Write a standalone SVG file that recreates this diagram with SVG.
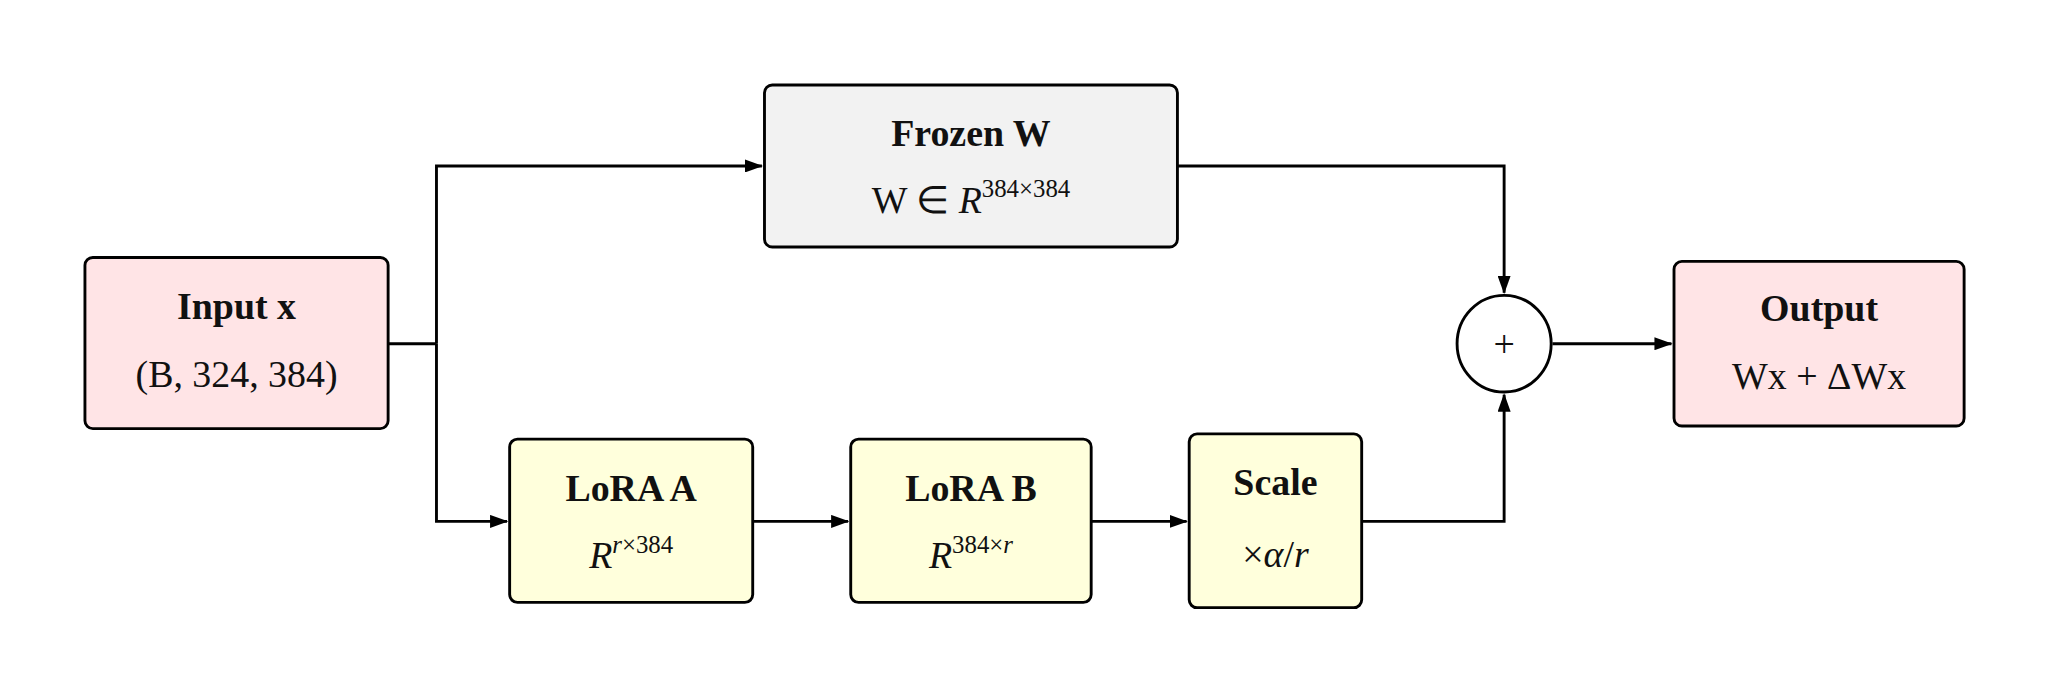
<svg xmlns="http://www.w3.org/2000/svg" width="2049" height="693" viewBox="0 0 2049 693">
<style>
.b{stroke:#000;stroke-width:2.2}
.t{font-family:"Liberation Serif",serif;font-size:29px;text-anchor:middle;fill:#111}
.h{font-weight:bold}
.i{font-style:italic}
.s{font-size:19px}
.c{fill:none;stroke:#000;stroke-width:2.2}
</style>
<defs><marker id="a" markerWidth="14" markerHeight="10" refX="13" refY="5" orient="auto" markerUnits="userSpaceOnUse"><path d="M0,0L14,5L0,10z" fill="#000"/></marker></defs>
<rect width="2049" height="693" fill="#fff"/>
<g transform="scale(1.3068)">
<g id="connectors">
<path class="c" d="M297,263H334"/>
<path class="c" d="M334,263V127H583" marker-end="url(#a)"/>
<path class="c" d="M334,263V399H388" marker-end="url(#a)"/>
<path class="c" d="M576,399H649" marker-end="url(#a)"/>
<path class="c" d="M835,399H908" marker-end="url(#a)"/>
<path class="c" d="M1042,399H1151V302" marker-end="url(#a)"/>
<path class="c" d="M901,127H1151V224" marker-end="url(#a)"/>
<path class="c" d="M1188,263H1279" marker-end="url(#a)"/>
</g>
<g id="input"><rect class="b" x="65" y="197" width="232" height="131" rx="6" fill="#ffe4e6"/>
<text class="t h" x="181" y="244">Input x</text><text class="t" x="181" y="296">(B, 324, 384)</text></g>
<g id="frozen"><rect class="b" x="585" y="65" width="316" height="124" rx="6" fill="#f2f2f2"/>
<text class="t h" x="743" y="112">Frozen W</text><text class="t" x="743" y="163">W ∈ <tspan class="i">R</tspan><tspan class="s" dy="-12">384×384</tspan></text></g>
<g id="loraA"><rect class="b" x="390" y="336" width="186" height="125" rx="6" fill="#ffffdc"/>
<text class="t h" x="483" y="383">LoRA A</text><text class="t" x="483" y="435"><tspan class="i">R</tspan><tspan class="s" dy="-12"><tspan class="i">r</tspan>×384</tspan></text></g>
<g id="loraB"><rect class="b" x="651" y="336" width="184" height="125" rx="6" fill="#ffffdc"/>
<text class="t h" x="743" y="383">LoRA B</text><text class="t" x="743" y="435"><tspan class="i">R</tspan><tspan class="s" dy="-12">384×<tspan class="i">r</tspan></tspan></text></g>
<g id="scale"><rect class="b" x="910" y="332" width="132" height="133" rx="6" fill="#ffffdc"/>
<text class="t h" x="976" y="379">Scale</text><text class="t" x="976" y="434">×<tspan class="i">α</tspan>/<tspan class="i">r</tspan></text></g>
<g id="sum"><ellipse class="b" cx="1151" cy="263" rx="36" ry="37" fill="#fff"/>
<text class="t" x="1151" y="273">+</text></g>
<g id="output"><rect class="b" x="1281" y="200" width="222" height="126" rx="6" fill="#ffe4e6"/>
<text class="t h" x="1392" y="246">Output</text><text class="t" x="1392" y="298">Wx + ΔWx</text></g>
</g>
</svg>
